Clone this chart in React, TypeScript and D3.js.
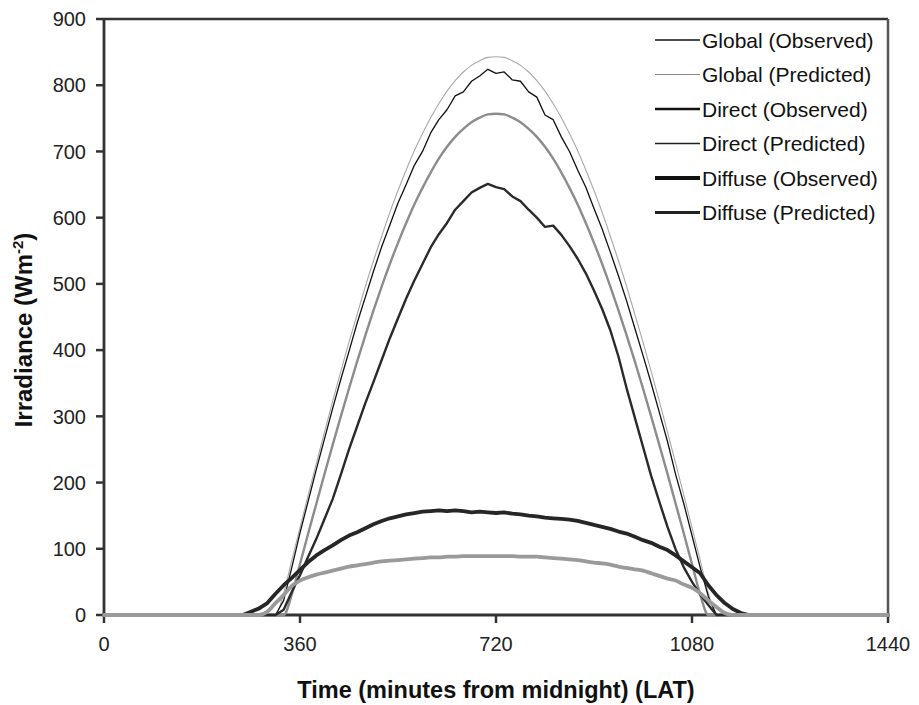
import React from "react";
import * as d3 from "d3";

const minutes = [0, 240, 255, 270, 285, 300, 315, 330, 345, 360, 375, 390, 405, 420, 435, 450, 465, 480, 495, 510, 525, 540, 555, 570, 585, 600, 615, 630, 645, 660, 675, 690, 705, 720, 735, 750, 765, 780, 795, 810, 825, 840, 855, 870, 885, 900, 915, 930, 945, 960, 975, 990, 1005, 1020, 1035, 1050, 1065, 1080, 1095, 1110, 1125, 1140, 1155, 1170, 1185, 1200, 1440];

const globalObserved = [0, 0, 0, 0, 0, 0, 0, 22, 72, 124, 172, 220, 266, 312, 356, 398, 441, 480, 519, 556, 589, 622, 650, 679, 700, 728, 748, 763, 784, 790, 806, 814, 824, 818, 820, 808, 806, 790, 782, 755, 748, 722, 700, 672, 646, 614, 583, 548, 512, 474, 433, 392, 350, 306, 262, 212, 168, 120, 72, 28, 0, 0, 0, 0, 0, 0, 0];
const globalPredicted = [0, 0, 0, 0, 0, 0, 0, 33, 83, 132, 181, 229, 276, 323, 368, 412, 454, 496, 535, 572, 608, 641, 672, 701, 727, 751, 772, 791, 807, 820, 830, 837, 842, 843, 842, 837, 830, 820, 807, 791, 772, 751, 727, 701, 672, 641, 608, 572, 535, 496, 454, 412, 368, 323, 276, 229, 181, 132, 83, 33, 0, 0, 0, 0, 0, 0, 0];
const directObserved = [0, 0, 0, 0, 0, 0, 0, 8, 35, 60, 88, 115, 145, 175, 212, 250, 285, 320, 352, 385, 418, 448, 478, 505, 530, 555, 575, 592, 612, 625, 638, 645, 651, 646, 643, 632, 625, 612, 600, 586, 588, 574, 557, 538, 516, 490, 462, 430, 390, 342, 298, 254, 210, 171, 133, 99, 72, 50, 31, 15, 0, 0, 0, 0, 0, 0, 0];
const directPredicted = [0, 0, 0, 0, 0, 0, 0, 0, 31, 77, 123, 168, 213, 257, 300, 342, 383, 422, 460, 496, 530, 562, 592, 620, 645, 668, 689, 707, 722, 734, 744, 751, 756, 757, 756, 751, 744, 734, 722, 707, 689, 668, 645, 620, 592, 562, 530, 496, 460, 422, 383, 342, 300, 257, 213, 168, 123, 77, 31, 0, 0, 0, 0, 0, 0, 0, 0];
const diffuseObserved = [0, 0, 0, 5, 10, 18, 32, 45, 56, 68, 80, 90, 98, 105, 113, 120, 125, 131, 137, 142, 146, 149, 152, 154, 156, 157, 158, 157, 158, 157, 155, 156, 155, 154, 155, 153, 152, 150, 149, 147, 146, 145, 144, 142, 139, 136, 133, 130, 126, 123, 118, 113, 109, 103, 98, 90, 81, 72, 63, 45, 30, 18, 9, 3, 0, 0, 0];
const diffusePredicted = [0, 0, 0, 0, 0, 5, 18, 30, 44, 52, 57, 61, 64, 67, 70, 73, 75, 77, 79, 81, 82, 83, 84, 85, 86, 87, 87, 88, 88, 89, 89, 89, 89, 89, 89, 89, 88, 88, 88, 87, 86, 85, 84, 83, 81, 79, 78, 76, 73, 71, 69, 67, 63, 59, 55, 52, 46, 41, 33, 22, 12, 3, 0, 0, 0, 0, 0];

const xTicks = [0, 360, 720, 1080, 1440];
const yTicks = [0, 100, 200, 300, 400, 500, 600, 700, 800, 900];
const seriesNames = ["Global (Observed)", "Global (Predicted)", "Direct (Observed)", "Direct (Predicted)", "Diffuse (Observed)", "Diffuse (Predicted)"];

const W = 919;
const H = 705;
const FONT = "'Liberation Sans', Arial, sans-serif";

export default function App() {
  const x = d3.scaleLinear().domain([0, 1440]).range([104, 888]);
  const y = d3.scaleLinear().domain([0, 900]).range([615, 19]);

  const series = [
    { name: seriesNames[0], values: globalObserved, plot: { stroke: "#111", w: 1.3 }, leg: { stroke: "#111", w: 1.3 } },
    { name: seriesNames[1], values: globalPredicted, plot: { stroke: "#a8a8a8", w: 1.1 }, leg: { stroke: "#888", w: 1 } },
    { name: seriesNames[2], values: directObserved, plot: { stroke: "#2a2a2a", w: 2.4 }, leg: { stroke: "#111", w: 2.6 } },
    { name: seriesNames[3], values: directPredicted, plot: { stroke: "#8c8c8c", w: 2.4 }, leg: { stroke: "#222", w: 1.6 } },
    { name: seriesNames[4], values: diffuseObserved, plot: { stroke: "#262626", w: 3.8 }, leg: { stroke: "#111", w: 4.2 } },
    { name: seriesNames[5], values: diffusePredicted, plot: { stroke: "#9a9a9a", w: 3.8 }, leg: { stroke: "#222", w: 3 } },
  ];

  const drawOrder = [1, 0, 3, 2, 4, 5];

  const lineGen = (vals: number[], smooth: boolean) =>
    d3
      .line<number>()
      .x((_, i) => x(minutes[i]))
      .y((v) => y(v))
      .curve(smooth ? d3.curveMonotoneX : d3.curveLinear)(vals) || "";

  const axisColor = "#333";

  return (
    <svg width={W} height={H} style={{ position: "absolute", left: 0, top: 0, background: "#fff" }} fontFamily={FONT}>
      <rect x={0} y={0} width={W} height={H} fill="#fff" />
      {/* frame */}
      <line x1={x(0)} x2={x(1440)} y1={y(900)} y2={y(900)} stroke={axisColor} strokeWidth={2.5} />
      <line x1={x(1440)} x2={x(1440)} y1={y(900)} y2={y(0)} stroke="#555" strokeWidth={2.5} />
      <line x1={x(0)} x2={x(0)} y1={y(900)} y2={y(0)} stroke={axisColor} strokeWidth={2.8} />
      <line x1={x(0)} x2={x(1440)} y1={y(0)} y2={y(0)} stroke={axisColor} strokeWidth={2.8} />

      {/* y ticks */}
      {yTicks.map((t) => (
        <g key={"y" + t}>
          <line x1={x(0) - 8} x2={x(0)} y1={y(t)} y2={y(t)} stroke={axisColor} strokeWidth={2.5} />
          <text x={86} y={y(t)} dy="0.36em" textAnchor="end" fontSize={20} fill="#222">
            {t}
          </text>
        </g>
      ))}
      {/* x ticks */}
      {xTicks.map((t) => (
        <g key={"x" + t}>
          <line x1={x(t)} x2={x(t)} y1={y(0)} y2={y(0) + 8} stroke={axisColor} strokeWidth={2.5} />
          <text x={x(t)} y={651} textAnchor="middle" fontSize={20} fill="#222">
            {t}
          </text>
        </g>
      ))}

      {/* series */}
      {drawOrder.map((i) => {
        const s = series[i];
        const smooth = i % 2 === 1;
        return (
          <path
            key={s.name}
            d={lineGen(s.values, smooth)}
            fill="none"
            stroke={s.plot.stroke}
            strokeWidth={s.plot.w}
            strokeLinejoin="round"
            strokeLinecap="round"
          />
        );
      })}

      {/* legend */}
      {series.map((s, i) => {
        const ly = 40 + i * 34.5;
        return (
          <g key={"leg" + i}>
            <line x1={655} x2={700} y1={ly} y2={ly} stroke={s.leg.stroke} strokeWidth={s.leg.w} />
            <text x={702} y={ly} dy="0.36em" fontSize={21} fill="#111">
              {s.name}
            </text>
          </g>
        );
      })}

      {/* axis titles */}
      <text x={496} y={698} textAnchor="middle" fontSize={23.5} fontWeight="bold" fill="#111">
        Time (minutes from midnight) (LAT)
      </text>
      <text transform="translate(32,330) rotate(-90)" textAnchor="middle" fontSize={24} fontWeight="bold" fill="#111">
        Irradiance (Wm
        <tspan dy={-9} fontSize={15}>-2</tspan>
        <tspan dy={9}>)</tspan>
      </text>
    </svg>
  );
}
